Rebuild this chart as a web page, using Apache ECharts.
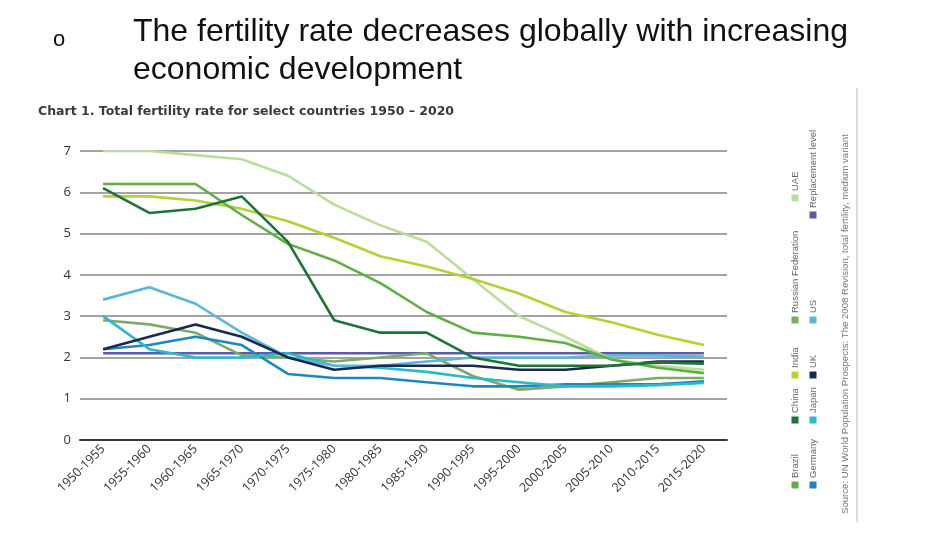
<!DOCTYPE html>
<html>
<head>
<meta charset="utf-8">
<script src="https://cdn.jsdelivr.net/npm/echarts@6/dist/echarts.min.js"></script>
<style>
  html, body { margin: 0; padding: 0; background: #fff; }
  #chart { width: 927px; height: 533px; }
</style>
</head>
<body>
<div id="chart"></div>
<script>
// Five-year periods on the x axis
const categories = ['1950-1955', '1955-1960', '1960-1965', '1965-1970', '1970-1975',
  '1975-1980', '1980-1985', '1985-1990', '1990-1995', '1995-2000',
  '2000-2005', '2005-2010', '2010-2015', '2015-2020'];

// Total fertility rate (children per woman)
const brazil  = [6.2, 6.2, 6.2, 5.45, 4.75, 4.35, 3.8, 3.1, 2.6, 2.5, 2.35, 1.95, 1.75, 1.62];
const china   = [6.1, 5.5, 5.6, 5.9, 4.8, 2.9, 2.6, 2.6, 2.0, 1.8, 1.8, 1.8, 1.88, 1.85];
const india   = [5.9, 5.9, 5.8, 5.6, 5.3, 4.9, 4.45, 4.2, 3.9, 3.55, 3.1, 2.85, 2.55, 2.3];
const russia  = [2.9, 2.8, 2.6, 2.05, 2.0, 1.9, 2.0, 2.1, 1.55, 1.22, 1.3, 1.4, 1.5, 1.5];
const uae     = [7.0, 7.0, 6.9, 6.8, 6.4, 5.7, 5.2, 4.8, 3.9, 3.0, 2.5, 1.95, 1.8, 1.7];
const germany = [2.2, 2.3, 2.5, 2.3, 1.6, 1.5, 1.5, 1.4, 1.3, 1.3, 1.35, 1.35, 1.35, 1.42];
const japan   = [3.0, 2.2, 2.0, 2.0, 2.1, 1.8, 1.75, 1.65, 1.5, 1.4, 1.3, 1.3, 1.33, 1.38];
const uk      = [2.2, 2.5, 2.8, 2.5, 2.0, 1.7, 1.8, 1.8, 1.8, 1.7, 1.7, 1.8, 1.9, 1.9];
const us      = [3.4, 3.7, 3.3, 2.6, 2.0, 1.8, 1.8, 1.9, 2.0, 2.0, 2.0, 2.05, 2.05, 2.02];
const replacement = [2.1, 2.1, 2.1, 2.1, 2.1, 2.1, 2.1, 2.1, 2.1, 2.1, 2.1, 2.1, 2.1, 2.1];

const yTicks = [0, 1, 2, 3, 4, 5, 6, 7];

const seriesDefs = [
  { name: 'Brazil', data: brazil, color: '#5fb043' },
  { name: 'China', data: china, color: '#1d7437' },
  { name: 'India', data: india, color: '#b3d233' },
  { name: 'Russian Federation', data: russia, color: '#7cab68' },
  { name: 'UAE', data: uae, color: '#bcdc9c' },
  { name: 'Germany', data: germany, color: '#1f86c0' },
  { name: 'Japan', data: japan, color: '#2cbacb' },
  { name: 'UK', data: uk, color: '#1a2a4f' },
  { name: 'US', data: us, color: '#5cb6da' },
  { name: 'Replacement level', data: replacement, color: '#5b5ba6' }
];

// Draw order: replacement level underneath, then the rest
const drawOrder = ['Replacement level', 'Russian Federation', 'Germany', 'Japan', 'US', 'UK',
  'UAE', 'India', 'Brazil', 'China'];

const series = drawOrder.map(function (n, i) {
  const d = seriesDefs.find(function (s) { return s.name === n; });
  return {
    name: d.name,
    type: 'line',
    data: d.data,
    symbol: 'none',
    z: 2 + i,
    lineStyle: { color: d.color, width: 2.6 },
    itemStyle: { color: d.color }
  };
});

// Vertical legend: two columns, reading bottom to top
const legendCols = [
  { x: 795, items: [['Brazil', 485], ['China', 420], ['India', 375], ['Russian Federation', 320], ['UAE', 198]] },
  { x: 813, items: [['Germany', 485], ['Japan', 420], ['UK', 375], ['US', 320], ['Replacement level', 215]] }
];

const graphics = [
  { type: 'text', left: 53, top: 29, style: { text: 'o', font: '22px "Liberation Sans"', fill: '#111' } },
  { type: 'text', left: 133, top: 16, style: { text: 'The fertility rate decreases globally with increasing', font: '32px "Liberation Sans"', fill: '#111' } },
  { type: 'text', left: 133, top: 54, style: { text: 'economic development', font: '32px "Liberation Sans"', fill: '#111' } },
  { type: 'text', left: 38, top: 105, style: { text: 'Chart 1. Total fertility rate for select countries 1950 \u2013 2020', font: 'bold 12.5px "DejaVu Sans"', fill: '#3a3a3a' } },
  { type: 'line', shape: { x1: 857, y1: 88, x2: 857, y2: 522 }, style: { stroke: '#b8b8b8', lineWidth: 1 } },
  { type: 'text', x: 845, y: 514, rotation: Math.PI / 2,
    style: { text: 'Source: UN World Population Prospects: The 2008 Revision, total fertility, medium variant',
      font: '9.6px "Liberation Sans"', fill: '#777', textAlign: 'left', textVerticalAlign: 'middle' } }
];

legendCols.forEach(function (col) {
  col.items.forEach(function (it) {
    const d = seriesDefs.find(function (s) { return s.name === it[0]; });
    graphics.push({ type: 'rect', shape: { x: col.x - 3.5, y: it[1] - 3.5, width: 7, height: 7 }, style: { fill: d.color } });
    graphics.push({ type: 'text', x: col.x, y: it[1] - 7, rotation: Math.PI / 2,
      style: { text: d.name, font: '9.5px "Liberation Sans"', fill: '#666', textAlign: 'left', textVerticalAlign: 'middle' } });
  });
});

const chart = echarts.init(document.getElementById('chart'), null, { renderer: 'canvas' });
chart.setOption({
  animation: false,
  backgroundColor: '#fff',
  grid: { left: 80, right: 200, top: 151, bottom: 93, containLabel: false },
  xAxis: {
    type: 'category',
    data: categories,
    boundaryGap: true,
    axisTick: { show: false },
    axisLine: { show: true, lineStyle: { color: '#3a3a3a', width: 2 } },
    axisLabel: { rotate: 45, fontSize: 12.5, color: '#333', margin: 7, fontFamily: 'Open Sans', interval: 0 }
  },
  yAxis: {
    type: 'value',
    min: yTicks[0],
    max: yTicks[yTicks.length - 1],
    interval: 1,
    axisLine: { show: false },
    axisTick: { show: false },
    axisLabel: { fontSize: 13, color: '#333', margin: 9, fontFamily: 'Open Sans' },
    splitLine: { lineStyle: { color: '#858585', width: 1.5 } }
  },
  series: series,
  graphic: graphics
});
</script>
</body>
</html>
